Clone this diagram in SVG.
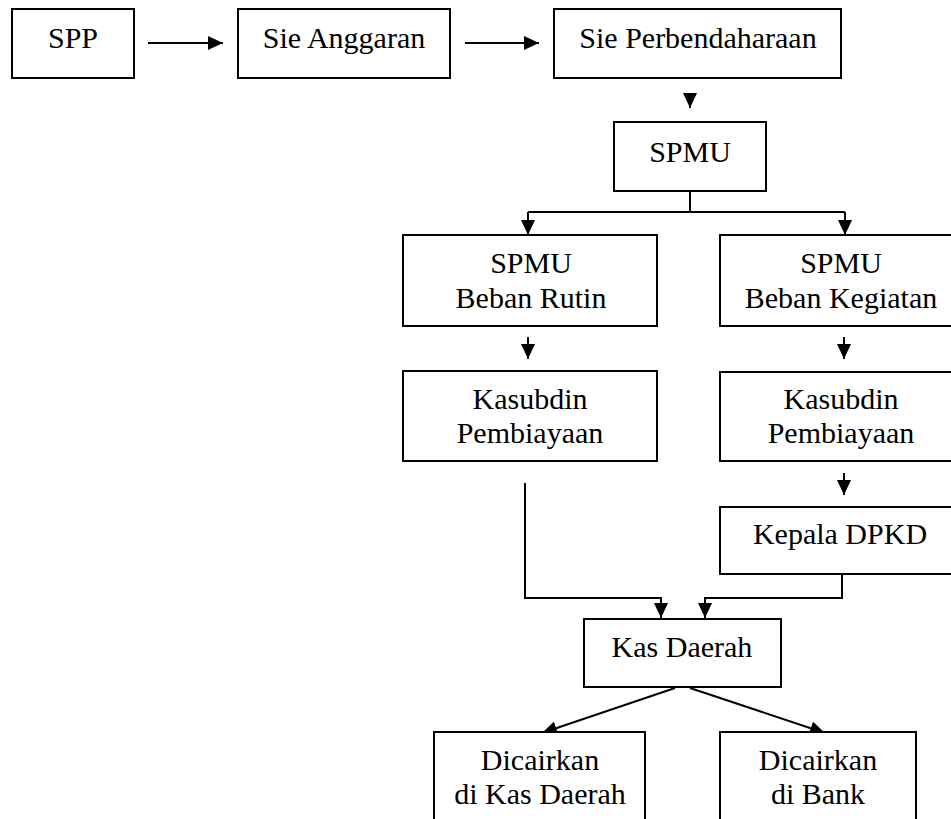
<svg xmlns="http://www.w3.org/2000/svg" width="951" height="819" viewBox="0 0 951 819">
<style>
.box{fill:#fff;stroke:#000;stroke-width:2}
.t{font-family:'Liberation Serif','Times New Roman','DejaVu Serif',serif;font-size:30px;fill:#000;text-anchor:middle}
.c{fill:none;stroke:#000;stroke-width:2}
</style>
<defs>
<marker id="ah" markerWidth="15" markerHeight="14" refX="15" refY="7" orient="auto" markerUnits="userSpaceOnUse">
<path d="M0,0 L15,7 L0,14 z" fill="#000"/>
</marker>
</defs>
<rect width="951" height="819" fill="#fff"/>
<g id="connectors">
<path class="c" d="M148,43 H223" marker-end="url(#ah)"/>
<path class="c" d="M465,43 H539" marker-end="url(#ah)"/>
<path class="c" d="M690,93 V108" marker-end="url(#ah)"/>
<path class="c" d="M690,191 V212"/>
<path class="c" d="M528,212 H845"/>
<path class="c" d="M528,212 V235" marker-end="url(#ah)"/>
<path class="c" d="M845,212 V235" marker-end="url(#ah)"/>
<path class="c" d="M528,337 V359" marker-end="url(#ah)"/>
<path class="c" d="M844,337 V359" marker-end="url(#ah)"/>
<path class="c" d="M844,473 V495" marker-end="url(#ah)"/>
<path class="c" d="M525,483 V598 H661 V618" marker-end="url(#ah)"/>
<path class="c" d="M842,574 V598 H705 V618" marker-end="url(#ah)"/>
<path class="c" d="M675,688 L542,733" marker-end="url(#ah)"/>
<path class="c" d="M690,688 L825,733" marker-end="url(#ah)"/>
</g>
<g id="spp"><rect class="box" x="12" y="9" width="122" height="69"/><text class="t" font-family="Liberation Serif" x="73" y="48">SPP</text></g>
<g id="sie-anggaran"><rect class="box" x="238" y="9" width="212" height="69"/><text class="t" x="344" y="48">Sie Anggaran</text></g>
<g id="sie-perbendaharaan"><rect class="box" x="554" y="9" width="287" height="69"/><text class="t" x="698" y="48">Sie Perbendaharaan</text></g>
<g id="spmu"><rect class="box" x="614" y="122" width="152" height="69"/><text class="t" x="690" y="162">SPMU</text></g>
<g id="spmu-rutin"><rect class="box" x="403" y="235" width="254" height="91"/><text class="t" x="531" y="273">SPMU</text><text class="t" x="531" y="308">Beban Rutin</text></g>
<g id="spmu-kegiatan"><rect class="box" x="720" y="235" width="245" height="91"/><text class="t" x="841" y="273">SPMU</text><text class="t" x="841" y="308">Beban Kegiatan</text></g>
<g id="kasubdin-1"><rect class="box" x="403" y="371" width="254" height="90"/><text class="t" x="530" y="409">Kasubdin</text><text class="t" x="530" y="443">Pembiayaan</text></g>
<g id="kasubdin-2"><rect class="box" x="720" y="372" width="245" height="89"/><text class="t" x="841" y="409">Kasubdin</text><text class="t" x="841" y="443">Pembiayaan</text></g>
<g id="kepala-dpkd"><rect class="box" x="720" y="507" width="245" height="67"/><text class="t" x="840" y="544">Kepala DPKD</text></g>
<g id="kas-daerah"><rect class="box" x="584" y="619" width="197" height="68"/><text class="t" x="682" y="657">Kas Daerah</text></g>
<g id="cair-kas"><rect class="box" x="434" y="732" width="211" height="110"/><text class="t" x="540" y="770">Dicairkan</text><text class="t" x="540" y="804">di Kas Daerah</text></g>
<g id="cair-bank"><rect class="box" x="720" y="732" width="196" height="110"/><text class="t" x="818" y="770">Dicairkan</text><text class="t" x="818" y="804">di Bank</text></g>
</svg>
